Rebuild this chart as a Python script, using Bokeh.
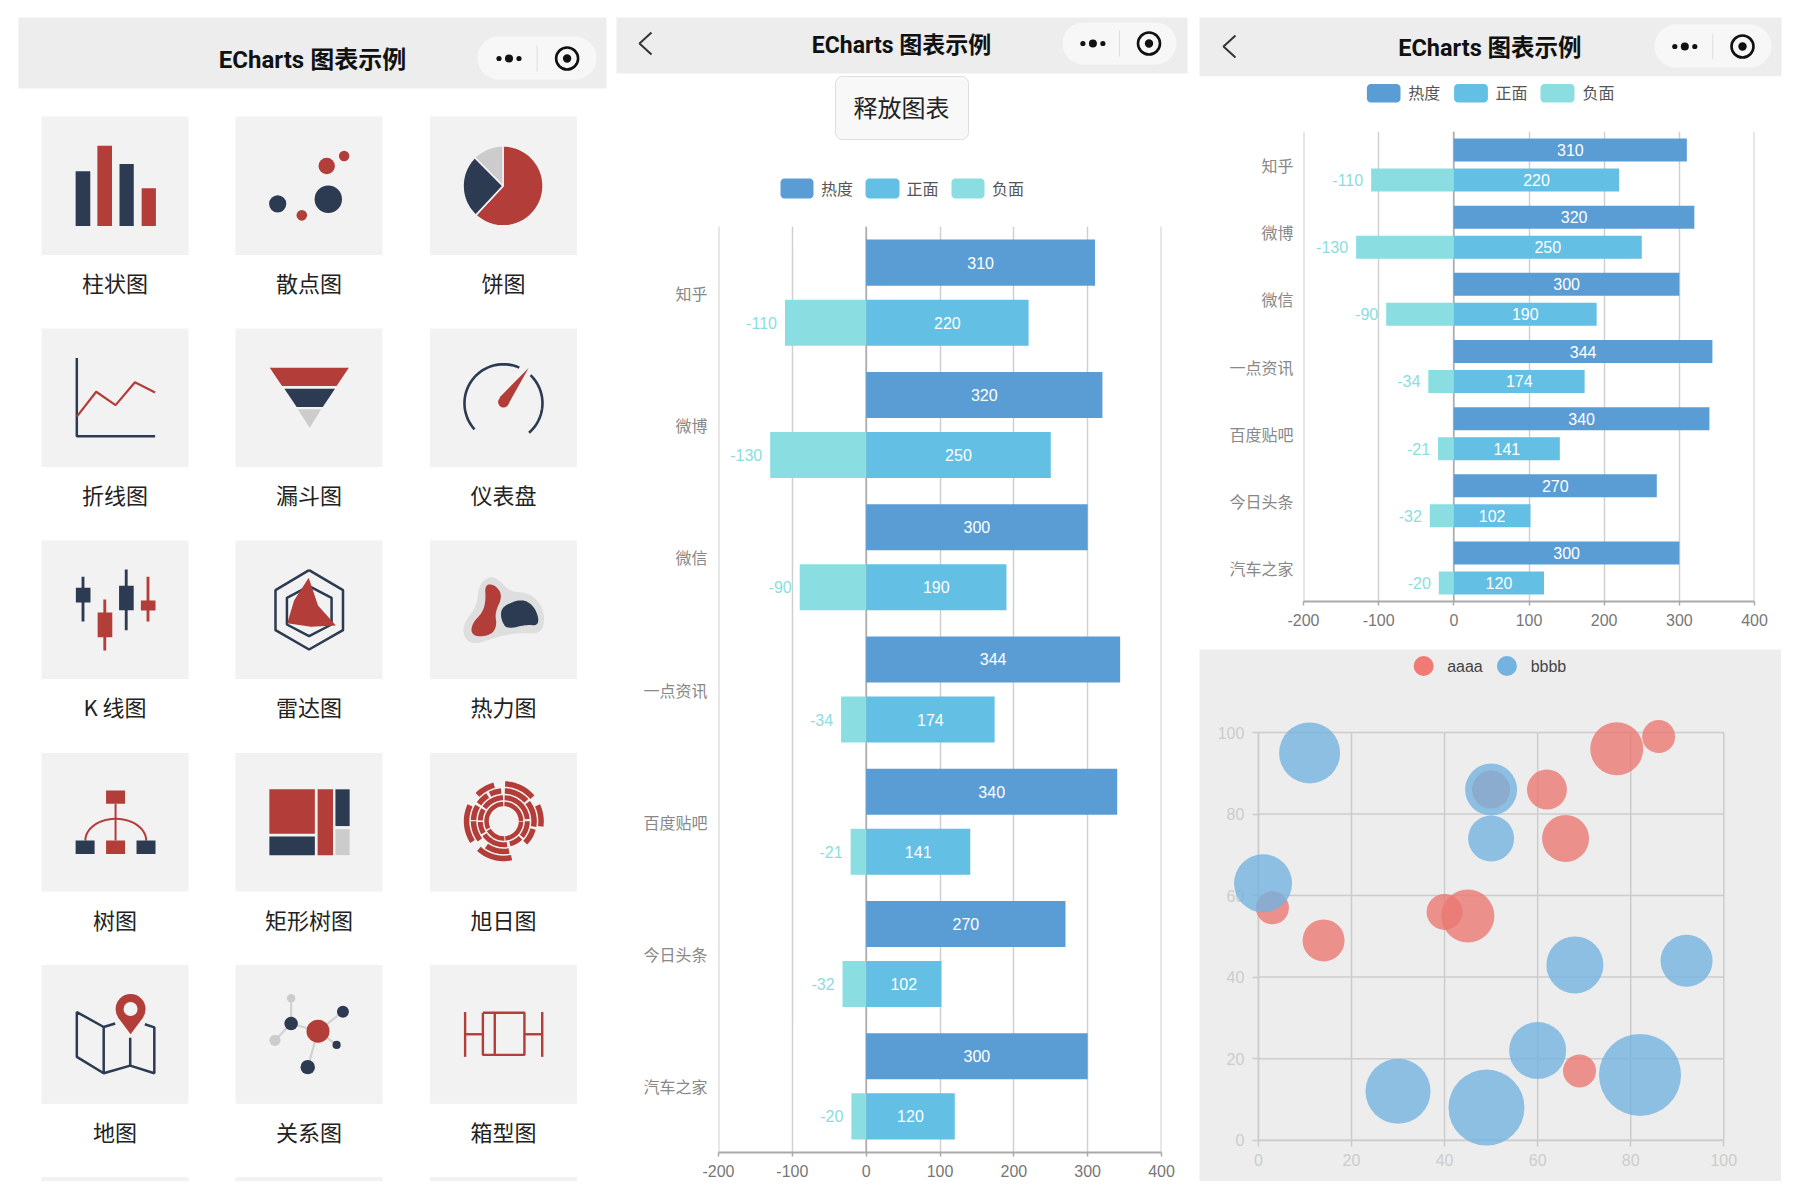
import numpy as np
from bokeh.core.properties import value
from bokeh.embed import file_html
from bokeh.layouts import column, row
from bokeh.models import ColumnDataSource, FactorRange, Range1d, Span
from bokeh.plotting import figure
from bokeh.resources import INLINE
from bokeh.transform import dodge

# ---------- data ----------
categories = ["知乎", "微博", "微信", "一点资讯", "百度贴吧", "今日头条", "汽车之家"]
hot = [310, 320, 300, 344, 340, 270, 300]
positive = [220, 250, 190, 174, 141, 102, 120]
negative = [-110, -130, -90, -34, -21, -32, -20]
series_names = ["热度", "正面", "负面"]
value_ticks = [-200, -100, 0, 100, 200, 300, 400]

aaaa_x = [86, 77, 62, 50, 66, 45, 40, 3, 14, 69]
aaaa_y = [99, 96, 86, 86, 74, 55, 56, 57, 49, 17]
aaaa_size = [33, 53, 40, 38, 47, 53, 36, 33, 42, 33]
bbbb_x = [11, 50, 50, 1, 68, 92, 60, 30, 49, 82]
bbbb_y = [95, 86, 74, 63, 43, 44, 22, 12, 8, 16]
bbbb_size = [61, 52, 46, 58, 57, 52, 57, 65, 76, 82]
bubble_ticks = [0, 20, 40, 60, 80, 100]

tile_labels = ["柱状图", "散点图", "饼图", "折线图", "漏斗图", "仪表盘", "K 线图", "雷达图", "热力图",
               "树图", "矩形树图", "旭日图", "地图", "关系图", "箱型图"]
app_title = "ECharts 图表示例"
button_label = "释放图表"

# ---------- style ----------
CJK = "Noto Sans CJK SC"
LATIN = "Liberation Sans, Noto Sans CJK SC"
TITLE = "Roboto, Noto Sans CJK SC"
RED, NAVY, GREY = "#B23D39", "#2C3A52", "#CCCCCC"
TILE, NAVBG = "#F2F2F2", "#EDEDED"
C_HOT, C_POS, C_NEG = "#5A9DD5", "#63BFE3", "#8ADEE1"
C_A, C_B = "#EB7873", "#74B3E0"


def canvas(x0, x1, y0, y1, sx=1, sy=1):
    p = figure(x_range=Range1d(x0 + sx, x1 + sx), y_range=Range1d(y1 + sy, y0 + sy), width=x1 - x0, height=y1 - y0,
               min_border=0, toolbar_location=None, output_backend="svg", outline_line_color=None,
               frame_align=False)
    p.xaxis.visible = False
    p.yaxis.visible = False
    p.grid.visible = False
    return p


def box(p, x0, x1, y0, y1, c):
    p.quad(left=[x0], right=[x1], top=[y0], bottom=[y1], fill_color=c, line_color=None)


def poly(p, pts, c, lc=None, lw=1):
    xs, ys = zip(*pts)
    p.patch(list(xs), list(ys), fill_color=c, line_color=lc, line_width=lw)


def stroke(p, pts, c, lw):
    xs, ys = zip(*pts)
    p.line(list(xs), list(ys), line_color=c, line_width=lw)


def dot(p, x, y, r, c):
    p.scatter([x], [y], size=2 * r, fill_color=c, line_color=None)


def rrect(x0, x1, y0, y1, r):
    pts = []
    for cx, cy, a0 in [(x1 - r, y0 + r, 0), (x1 - r, y1 - r, 90), (x0 + r, y1 - r, 180), (x0 + r, y0 + r, 270)]:
        for a in np.radians(np.linspace(a0, a0 + 90, 10)):
            pts.append((cx + r * np.sin(a), cy - r * np.cos(a)))
    return pts


def arc(cx, cy, r, a0, a1, n=40):
    a = np.radians(np.linspace(a0, a1, n))
    return list(zip(cx + r * np.sin(a), cy - r * np.cos(a)))


def text(p, x, y, t, size, c, font=CJK, bold=False, align="center"):
    p.text(x=[x], y=[y], text=[t], text_font=value(font), text_font_size=size, text_color=c,
           text_align=align, text_baseline="middle", text_font_style="bold" if bold else "normal")


def chaikin(pts, n=3):
    a = np.array(pts, float)
    for _ in range(n):
        b = np.roll(a, -1, axis=0)
        a = np.column_stack([0.75 * a + 0.25 * b, 0.25 * a + 0.75 * b]).reshape(-1, 2)
    return [tuple(v) for v in a]


def nav(p, x0, x1, y0, y1, tx, ty, tsize, cap, dots_x, sep_x, ring_x, back=None, title_dy=1):
    box(p, x0, x1, y0, y1, NAVBG)
    text(p, tx, ty + title_dy, app_title, tsize, "#111111", font=TITLE, bold=True)
    poly(p, rrect(cap[0], cap[1], cap[2], cap[3], (cap[3] - cap[2]) / 2), "#F7F7F7")
    p.segment([sep_x], [ty - 13], [sep_x], [ty + 13], line_color="#DDDDDD", line_width=1)
    for dx, r in [(-10, 2.6), (0, 4), (10, 2.6)]:
        dot(p, dots_x + dx, ty, r, "#111111")
    p.scatter([ring_x], [ty], size=22, fill_color=None, line_color="#111111", line_width=2.6)
    dot(p, ring_x, ty, 4.2, "#111111")
    if back:
        stroke(p, back, "#333333", 2)


def legend_row(p, swatches, y0, y1, label_xs, fs):
    for (a, b), lx, name, c in zip(swatches, label_xs, series_names, [C_HOT, C_POS, C_NEG]):
        poly(p, rrect(a, b, y0, y1, 4), c)
        text(p, lx, (y0 + y1) / 2 - 1, name, fs, "#555555", align="left")


# ---------- left panel ----------
left = canvas(0, 612, 0, 1192, sx=0)
nav(left, 18, 606, 18, 89, 312, 59, "24px", (477, 596, 37, 80), 508.5, 536.6, 566.6)
col_x, rows_y = [41, 235, 429.4], [117, 329, 541, 753.5, 965.6]
for i, label in enumerate(tile_labels):
    x = col_x[i % 3]
    y = rows_y[i // 3]
    box(left, x, x + 147, y, y + 138.6, TILE)
    text(left, x + 73.5, y + 165.7, label, "22px", "#222222")
for x in col_x:
    box(left, x, x + 147, 1177.6, 1181.7, TILE)


def z1(x, y):
    return x / 2.529, y / 2.613


def z2(x, y):
    return x / 2.529, 600 + y / 2.613


def z6(x, y):
    return 30 + x / 2.8, 535 + y / 3


def zbox(f, x0, x1, y0, y1, c):
    a, b = f(x0, y0)
    d, e = f(x1, y1)
    box(left, a, d, b, e, c)


# bar icon
for a, b, t, c in [(190, 227, 449, NAVY), (245, 282, 382, RED), (301, 337, 430, NAVY), (357, 393, 493, RED)]:
    zbox(z1, a, b, t, 592, c)
# scatter icon
for x, y, r, c in [(825, 435, 8.2, RED), (869, 409, 5.2, RED), (829, 522, 13.7, NAVY), (701, 534, 8.6, NAVY), (762, 564, 5.3, RED)]:
    dot(left, *z1(x, y), r, c)
# pie icon
px, py = z1(1271, 487)
for a0, a1, c in [(0, 223, RED), (223, 315, NAVY), (315, 360, GREY)]:
    poly(left, [(px, py)] + arc(px, py, 40, a0, a1), c, TILE, 1.5)
# line icon
stroke(left, [z1(193, 937), z1(193, 1141), z1(391, 1141)], NAVY, 2.5)
stroke(left, [z1(193, 1090), z1(242, 1025), z1(291, 1060), z1(340, 1000), z1(391, 1027)], RED, 2.2)
# funnel icon
poly(left, [z1(681, 962), z1(881, 962), z1(850, 1010), z1(712, 1010)], RED)
poly(left, [z1(718, 1017), z1(846, 1017), z1(815, 1065), z1(749, 1065)], NAVY)
poly(left, [z1(752, 1071), z1(811, 1071), z1(782, 1119)], GREY)
# gauge icon
gx, gy = z1(1272, 1055)
stroke(left, arc(gx, gy, 39, 228, 384), NAVY, 2.6)
stroke(left, arc(gx, gy, 39, 44, 139), NAVY, 2.6)
poly(left, [z1(1336, 962), z1(1283, 1060), z1(1262, 1040)], RED)
dot(left, *z1(1272, 1052), 5.4, RED)
# candlestick icon
for wx, wt, wb, a, b, t, e, c in [(147, 127, 261, 127, 168, 160, 204, NAVY), (208, 195, 348, 188, 229, 234, 308, RED),
                                  (268, 105, 287, 248, 289, 154, 227, NAVY), (329, 127, 261, 309, 350, 198, 228, RED)]:
    zbox(z6, wx - 4, wx + 4, wt, wb, c)
    zbox(z6, a, b, t, e, c)
# radar icon
outer = [(780, 107), (875, 167), (875, 287), (780, 345), (686, 287), (686, 167), (780, 107)]
inner = [(780, 155), (843, 190), (843, 270), (780, 305), (718, 270), (718, 190), (780, 155)]
stroke(left, [z6(*q) for q in outer], NAVY, 2.5)
stroke(left, [z6(*q) for q in inner], NAVY, 2.5)
poly(left, [z6(*q) for q in [(779, 130), (805, 213), (855, 273), (785, 277), (719, 266), (738, 198)]], RED)
# heat icon
gray_blob = [(1255, 150), (1290, 122), (1320, 145), (1345, 172), (1400, 175), (1440, 225), (1435, 298), (1370, 295), (1310, 305), (1250, 330), (1215, 315), (1210, 270), (1250, 215)]
red_blob = [(1272, 148), (1303, 152), (1322, 185), (1300, 235), (1306, 272), (1292, 300), (1250, 308), (1232, 292), (1240, 262), (1265, 235), (1275, 200)]
navy_blob = [(1328, 212), (1375, 193), (1408, 212), (1424, 252), (1418, 274), (1390, 270), (1335, 284), (1320, 262), (1316, 232)]
poly(left, [z6(*q) for q in chaikin(gray_blob)], "#DEDEDE")
poly(left, [z6(*q) for q in chaikin(red_blob)], RED)
poly(left, [z6(*q) for q in chaikin(navy_blob)], NAVY)
# tree icon
zbox(z2, 267, 315, 499, 534, RED)
stroke(left, [z2(291, 534), z2(291, 630)], RED, 2)
t = np.radians(np.linspace(-90, 90, 40))
stroke(left, [z2(291.5 + 77 * np.sin(a), 630 - 57 * np.cos(a)) for a in t], RED, 2)
for a, c in [(190, NAVY), (267, RED), (344, NAVY)]:
    zbox(z2, a, a + 48, 630, 665, c)
# treemap icon
for a, b, t0, e, c in [(680, 795, 496, 612, RED), (680, 795, 619, 668, NAVY), (802, 841, 496, 668, RED),
                       (847, 883, 496, 592, NAVY), (847, 883, 600, 668, GREY)]:
    zbox(z2, a, b, t0, e, c)
# sunburst icon
sx, sy = 503.3, 821.7
rings = [
    (15, 19.5, [(2, 90), (92, 175), (178, 240), (245, 358)]),
    (21, 26, [(2, 85), (90, 130), (135, 165), (172, 235), (240, 268), (272, 300), (305, 358)]),
    (27.5, 33, [(2, 48), (52, 100), (105, 135), (170, 215), (232, 270), (272, 300), (305, 328), (333, 355)]),
    (34.5, 40, [(2, 50), (65, 98), (168, 222), (237, 295), (315, 345)]),
]
for r0, r1, segs in rings:
    for a0, a1 in segs:
        poly(left, arc(sx, sy, r1, a0, a1, 16) + arc(sx, sy, r0, a1, a0, 16), RED)
# map icon
stroke(left, [z2(*q) for q in [(290, 1108), (261, 1117), (193, 1078), (193, 1195), (261, 1238), (328, 1218), (389, 1238), (389, 1118), (365, 1110)]], NAVY, 2.5)
stroke(left, [z2(261, 1117), z2(261, 1238)], NAVY, 2.5)
stroke(left, [z2(328, 1145), z2(328, 1218)], NAVY, 2.5)
poly(left, [z2(296, 1090), z2(329, 1136), z2(362, 1090)], RED)
dot(left, *z2(329, 1070), 15, RED)
dot(left, *z2(329, 1070), 7, TILE)
# graph icon
hub = (803, 1128)
for a, b in [(hub, (735, 1108)), (hub, (866, 1077)), (hub, (850, 1164)), (hub, (777, 1222)), ((735, 1108), (735, 1042)), ((735, 1108), (694, 1152))]:
    stroke(left, [z2(*a), z2(*b)], "#D2D2D2", 2.2)
for (x, y), r, c in [(hub, 11.5, RED), ((735, 1108), 6.8, NAVY), ((866, 1077), 6, NAVY), ((850, 1164), 4.1, NAVY),
                     ((777, 1222), 7.2, NAVY), ((735, 1042), 4.2, GREY), ((694, 1152), 5.6, GREY)]:
    dot(left, *z2(x, y), r, c)
# box icon
for seg in [[(1175, 1078), (1175, 1195)], [(1175, 1136), (1220, 1136)], [(1220, 1080), (1325, 1080), (1325, 1190), (1220, 1190), (1220, 1080)],
            [(1250, 1080), (1250, 1190)], [(1325, 1136), (1370, 1136)], [(1370, 1078), (1370, 1195)]]:
    stroke(left, [z2(*q) for q in seg], RED, 2.4)


# ---------- bar charts ----------
def bar_chart(width, height, l, r, b, offset, thick, fs, standoff):
    p = figure(x_range=Range1d(value_ticks[0], value_ticks[-1]), y_range=FactorRange(factors=categories[::-1]),
               width=width, height=height, min_border_left=l, min_border_right=r, min_border_bottom=b, min_border_top=0,
               toolbar_location=None, output_backend="svg", outline_line_color=None, frame_align=False)
    src = ColumnDataSource(dict(cat=categories, hot=hot, pos=positive, neg=negative,
                                hot_mid=[v / 2 for v in hot], pos_mid=[v / 2 for v in positive],
                                hot_t=[str(v) for v in hot], pos_t=[str(v) for v in positive], neg_t=[str(v) for v in negative]))
    up = dodge("cat", offset, range=p.y_range)
    down = dodge("cat", -offset, range=p.y_range)
    p.add_layout(Span(location=0, dimension="height", line_color="#AAAAAA", line_width=1.5, level="underlay"))
    for edge in (value_ticks[0], value_ticks[-1]):
        p.add_layout(Span(location=edge, dimension="height", line_color="#D0D0D0", line_width=2, level="underlay"))
    p.hbar(y=up, left=0, right="hot", height=thick, source=src, fill_color=C_HOT, line_color=None)
    p.hbar(y=down, left=0, right="pos", height=thick, source=src, fill_color=C_POS, line_color=None)
    p.hbar(y=down, left=0, right="neg", height=thick, source=src, fill_color=C_NEG, line_color=None)
    common = dict(source=src, text_font=value(LATIN), text_font_size=fs, text_baseline="middle")
    p.text(x="hot_mid", y=up, text="hot_t", text_color="white", text_align="center", **common)
    p.text(x="pos_mid", y=down, text="pos_t", text_color="white", text_align="center", **common)
    p.text(x="neg", y=down, text="neg_t", text_color=C_NEG, text_align="right", x_offset=-8, **common)
    p.xaxis.ticker = value_ticks
    p.xaxis.major_label_overrides = {v: str(v) for v in value_ticks}
    p.xaxis.axis_line_color = "#AAAAAA"
    p.xaxis.axis_line_width = 2
    p.xaxis.major_tick_line_color = "#AAAAAA"
    p.xaxis.major_tick_line_width = 1.5
    p.xaxis.major_tick_out = 4
    p.xaxis.major_tick_in = 0
    p.xaxis.major_label_standoff = 8
    p.xaxis.major_label_text_color = "#777777"
    p.xaxis.major_label_text_font = LATIN
    p.xaxis.major_label_text_font_size = fs
    p.yaxis.axis_line_color = None
    p.yaxis.major_tick_line_color = None
    p.yaxis.major_label_text_color = "#888888"
    p.yaxis.major_label_text_font = CJK
    p.yaxis.major_label_text_font_size = fs
    p.yaxis.major_label_standoff = standoff
    p.xgrid.grid_line_color = "#D0D0D0"
    p.xgrid.grid_line_width = 1.5
    p.ygrid.visible = False
    return p


mid_head = canvas(612, 1194, 0, 226)
nav(mid_head, 617, 1188, 18, 74, 902, 44, "23px", (1063, 1177, 23, 65), 1093.4, 1120, 1149.5,
    back=[(652, 33), (640, 44), (652, 55)], title_dy=2)
poly(mid_head, rrect(836, 969, 77, 140, 7), "#F8F8F8", "#DDDDDD", 1)
text(mid_head, 902, 107, button_label, "24px", "#222222")
legend_row(mid_head, [(781, 814), (866, 900), (952, 985)], 179, 199, [821.4, 907, 992.5], "16px")
mid_chart = bar_chart(582, 965, 106, 33, 39, 0.2268, 0.348, "16px", 5)

right_head = canvas(1194, 1792, 0, 131)
nav(right_head, 1200, 1782, 18, 76.7, 1490.4, 47, "23.5px", (1655, 1772, 25, 68), 1685.3, 1713.3, 1743,
    back=[(1236, 36), (1224, 47), (1236, 58)])
legend_row(right_head, [(1367.4, 1401), (1454.6, 1488.4), (1541, 1575)], 84.5, 103, [1408.7, 1496, 1583], "16px")
right_chart = bar_chart(598, 508, 109, 38, 38, 0.2234, 0.343, "16px", 4)

# ---------- bubble chart ----------
bubble = figure(x_range=Range1d(-12.66, 112.4), y_range=Range1d(-10.13, 120.36), width=582, height=532,
                min_border=0, toolbar_location=None, output_backend="svg", outline_line_color=None,
                background_fill_color=NAVBG, border_fill_color=NAVBG, margin=(10, 11, 10, 5), frame_align=False)
bubble.grid.visible = False
n = len(bubble_ticks)
bubble.segment(bubble_ticks, [bubble_ticks[0]] * n, bubble_ticks, [bubble_ticks[-1]] * n,
               line_color="#CCCCCC", line_width=1.5, level="underlay")
bubble.segment([bubble_ticks[0]] * n, bubble_ticks, [bubble_ticks[-1]] * n, bubble_ticks,
               line_color="#CCCCCC", line_width=1.5, level="underlay")
bubble.scatter(aaaa_x, aaaa_y, size=aaaa_size, fill_color=C_A, fill_alpha=0.8, line_color=None)
bubble.scatter(bbbb_x, bbbb_y, size=bbbb_size, fill_color=C_B, fill_alpha=0.8, line_color=None)
bubble.scatter([35.5], [116.3], size=20, fill_color="#F27A75", line_color=None)
bubble.scatter([53.4], [116.3], size=20, fill_color=C_B, line_color=None)
text(bubble, 40.55, 116.3, "aaaa", "16px", "#444444", font="Liberation Sans", align="left")
text(bubble, 58.5, 116.3, "bbbb", "16px", "#444444", font="Liberation Sans", align="left")
for ax in (bubble.xaxis, bubble.yaxis):
    ax.fixed_location = 0
    ax.bounds = (0, 100)
    ax.ticker = bubble_ticks
    ax.level = "underlay"
    ax.axis_line_color = "#CCCCCC"
    ax.axis_line_width = 1.5
    ax.major_tick_line_color = "#CCCCCC"
    ax.major_tick_line_width = 1.5
    ax.major_tick_out = 6
    ax.major_tick_in = 0
    ax.minor_tick_line_color = None
    ax.major_label_text_color = "#CCCCCC"
    ax.major_label_text_font = "Liberation Sans"
    ax.major_label_text_font_size = "16px"
    ax.major_label_standoff = 8

page = row(left, column(mid_head, mid_chart), column(right_head, right_chart, bubble))
open("out.html", "w").write(file_html(page, INLINE))
